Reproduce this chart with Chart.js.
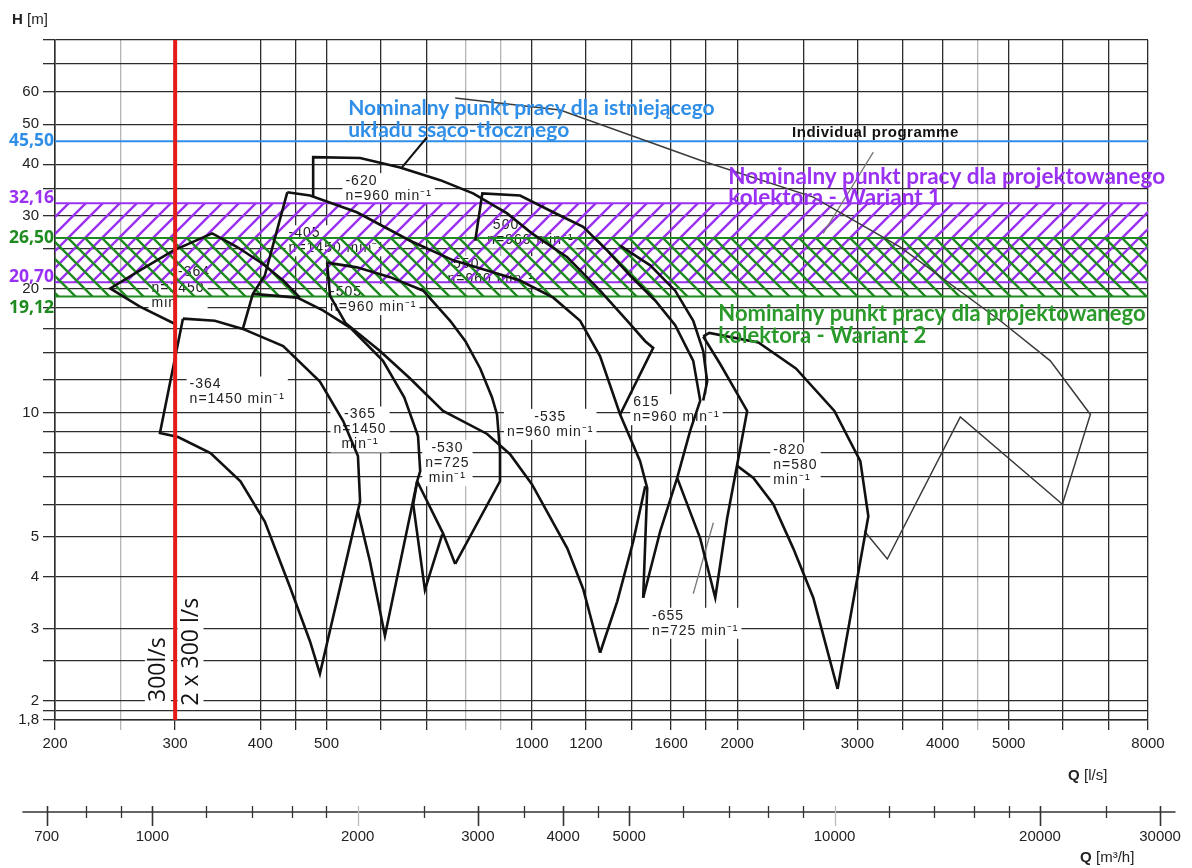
<!DOCTYPE html>
<html>
<head>
<meta charset="utf-8">
<script src="https://cdn.jsdelivr.net/npm/chart.js@4.4.1/dist/chart.umd.min.js"></script>
<style>
  html, body { margin: 0; padding: 0; background: #fff; }
  #wrap { width: 1192px; height: 868px; position: relative; }
</style>
</head>
<body>
<div id="wrap"><canvas id="pumpChart"></canvas></div>
<script>
// axes: Q in l/s (log), H in m (log)
let xGridValues = [200, 250, 300, 400, 450, 500, 600, 700, 800, 900, 1000, 1200, 1400, 1600, 1800, 2000, 2500, 3000, 3500, 4000, 4500, 5000, 6000, 7000, 8000];
let xLightGrid = [250, 800, 900, 4500];
let xTickLabels = [200, 300, 400, 500, 1000, 1200, 1600, 2000, 3000, 4000, 5000, 8000];
let yGridValues = [1.8, 1.9, 2, 2.5, 3, 4, 5, 6, 7, 8, 9, 10, 12, 14, 16, 18, 20, 25, 30, 35, 40, 50, 60, 70, 80];
let yTickLabels = [1.8, 2, 3, 4, 5, 10, 20, 30, 40, 50, 60];

// second axis Q in m3/h
let m3hRange = [645, 31600];
let m3hTicks = [700, 800, 900, 1000, 1200, 1400, 1600, 1800, 2000, 2500, 3000, 3500, 4000, 4500, 5000, 6000, 7000, 8000, 9000, 10000, 12000, 14000, 16000, 18000, 20000, 25000, 30000];
let m3hBigTicks = [700, 1000, 3000, 4000, 5000, 20000, 30000];
let m3hLightTicks = [2000, 10000];
let m3hLabels = [700, 1000, 2000, 3000, 4000, 5000, 10000, 20000, 30000];

// nominal working points
let levelValues = [45.5, 32.16, 26.5, 20.7, 19.12];
let levelTexts = ['45,50', '32,16', '26,50', '20,70', '19,12'];
let flowLine = 300;

// pump curves [Q l/s, H m]
let curveT0 = [[300,16.4],[266,18.1],[241,20.0],[266,22.1],[298,24.7],[340,27.2],[370,25.2],[404,22.9],[432,20.9],[457,19.0]];
let curve364 = [[308,16.9],[343,16.7],[377,15.96],[432,14.5],[489,11.9],[529,9.54],[556,7.85],[560,6.1],[489,2.33],[473,2.79],[442,3.78],[406,5.45],[374,6.82],[338,7.98],[303,8.73],[285,8.93],[308,16.9]];
let edge405 = [[438,34.2],[406,21.5],[390,19.4],[377,15.96]];
let curve365 = [[390,19.4],[453,19.0],[494,17.7],[542,16.05],[605,13.35],[650,10.9],[681,8.78],[686,7.22],[679,6.82],[609,2.88],[595,3.49],[579,4.36],[556,5.77]];
let curve405 = [[438,34.2],[473,33.6],[554,30.6],[663,26.1],[767,23.4],[860,22.1],[961,20.9],[1075,19.0],[1177,16.7],[1259,13.7],[1347,9.9],[1441,7.63],[1476,6.56],[1456,3.56]];
let curve620 = [[478,33.3],[478,41.6],[560,41.4],[641,39.3],[734,36.6],[820,34.0],[920,30.4],[1000,27.2],[1127,23.8],[1259,19.75],[1380,16.7],[1466,14.9],[1506,14.35],[1347,9.9]];
let curve500 = [[826,26.1],[846,34.0],[961,33.6],[1075,30.6],[1189,28.2],[1290,24.7],[1393,21.5],[1516,18.7],[1622,16.3],[1724,13.35],[1765,10.7],[1706,9.03],[1633,6.95],[1542,5.16],[1456,3.56]];
let curve616 = [[1347,25.4],[1491,22.75],[1622,19.75],[1724,16.7],[1783,14.1],[1807,11.9],[1783,10.7]];
let curve505 = [[501,23.1],[554,22.5],[620,21.3],[693,19.75],[759,16.7],[799,14.9],[840,12.8],[874,10.9],[889,9.9],[898,8.07],[898,6.82],[772,4.30]];
let edge505 = [[501,23.1],[506,19.2],[533,16.5],[599,14.1],[663,12.1],[741,10.1],[860,8.88],[929,7.93],[1000,6.71],[1127,4.69],[1189,3.74],[1259,2.62]];
let curve535 = [[1259,2.62],[1334,3.49],[1408,4.88],[1466,6.63]];
let zig530a = [[679,6.82],[741,5.1],[772,4.30]];
let zig530b = [[679,6.82],[670,6.0],[697,3.72],[739,5.07]];
let curve655 = [[1633,6.95],[1765,4.96],[1857,3.56],[1933,5.55],[2000,7.5],[2068,10.1],[1889,13.1],[1783,15.3]];
let curve820 = [[1783,15.3],[1820,15.6],[2148,14.8],[2438,12.8],[2776,10.1],[3030,7.63],[3113,5.61],[2806,2.14]];
let edge820 = [[2000,7.43],[2112,6.95],[2259,6.0],[2416,4.69],[2585,3.56],[2806,2.14]];
let programme = [[772,57.9],[1100,54.1],[1765,40.9],[2585,33.3],[3467,25.2],[4860,16.7],[5754,13.35],[6586,9.9],[5993,6.0],[4246,9.77],[3319,4.42],[3071,5.17]];
let pointer620 = [[702,46.5],[645,39.3]];
let pointerProgramme = [[3166,42.8],[2673,27.2]];
let pointer655 = [[1845,5.41],[1724,3.64]];

// labels of the pump fields (anchor Q, H of first line)
let pumpLabels = [
    {q: 315, h: 11.7, lines: ['-364', 'n=1450 min⁻¹']},
    {q: 560, h: 9.9, lines: ['-365', 'n=1450', 'min⁻¹'], center: true},
    {q: 752, h: 8.2, lines: ['-530', 'n=725', 'min⁻¹'], center: true},
    {q: 1064, h: 9.77, lines: ['-535', 'n=960 min⁻¹'], center: true},
    {q: 1408, h: 10.6, lines: ['615', 'n=960 min⁻¹']},
    {q: 2259, h: 8.1, lines: ['-820', 'n=580', 'min⁻¹']},
    {q: 1500, h: 3.22, lines: ['-655', 'n=725 min⁻¹']},
    {q: 533, h: 36.4, lines: ['-620', 'n=960 min⁻¹']},
    {q: 440, h: 27.2, lines: ['-405', 'n=1450 min⁻¹']},
    {q: 303, h: 21.9, lines: ['-364']},
    {q: 277, h: 20.0, lines: ['n=1450', 'min']},
    {q: 860, h: 28.4, lines: ['-500', 'n=960 min⁻¹']},
    {q: 752, h: 22.9, lines: ['-550', 'n=960 min⁻¹']},
    {q: 506, h: 19.6, lines: ['-505', 'n=960 min⁻¹']}
];

let notes = [
    {q: 538, h: 54.7, lines: ['Nominalny punkt pracy dla istniejącego', 'układu ssąco-tłocznego'], color: '#2f8ee8', size: 21, gap: 22},
    {q: 1940, h: 37.2, lines: ['Nominalny punkt pracy dla projektowanego', 'kolektora - Wariant 1'], color: '#9a30f2', size: 22.5, gap: 21},
    {q: 1876, h: 17.4, lines: ['Nominalny punkt pracy dla projektowanego', 'kolektora - Wariant 2'], color: '#2a9a2a', size: 22, gap: 22}
];

const BLUE = '#2f8ee8', PURPLE = '#9a30f2', GREEN = '#1f8a1f';
const levelColors = [BLUE, PURPLE, GREEN, PURPLE, GREEN];
const levelShift = [0, -5, 0, -5, 12];

function hatch(color, slash){
    let s = 17;
    let c = document.createElement('canvas');
    c.width = s; c.height = s;
    let g = c.getContext('2d');
    g.strokeStyle = color;
    g.lineWidth = 2.4;
    g.beginPath();
    if (slash){
        g.moveTo(0, s); g.lineTo(s, 0);
        g.moveTo(-2, 2); g.lineTo(2, -2);
        g.moveTo(s - 2, s + 2); g.lineTo(s + 2, s - 2);
    } else {
        g.moveTo(0, 0); g.lineTo(s, s);
        g.moveTo(s - 2, -2); g.lineTo(s + 2, 2);
        g.moveTo(-2, s - 2); g.lineTo(2, s + 2);
    }
    g.stroke();
    return g.createPattern(c, 'repeat');
}

function pts(arr){
    return arr.map(p => ({x: p[0], y: p[1]}));
}

function flat(h){
    return [{x: 200, y: h}, {x: 8000, y: h}];
}

let blackCurves = [curveT0, curve364, edge405, curve365, curve405, curve620, curve500, curve616,
    curve505, edge505, curve535, zig530a, zig530b, curve655, curve820, edge820];

let datasets = [
    {data: flat(levelValues[1]), borderColor: PURPLE, borderWidth: 2, order: 10},
    {data: flat(levelValues[3]), borderColor: PURPLE, borderWidth: 2, order: 10, fill: '-1', backgroundColor: hatch(PURPLE, true)},
    {data: flat(levelValues[2]), borderColor: GREEN, borderWidth: 2.2, order: 9},
    {data: flat(levelValues[4]), borderColor: GREEN, borderWidth: 2.2, order: 9, fill: '-1', backgroundColor: hatch(GREEN, false)},
    {data: flat(levelValues[0]), borderColor: BLUE, borderWidth: 2, order: 8}
];
blackCurves.forEach(c => datasets.push({data: pts(c), borderColor: '#111', borderWidth: 2.6, order: 0}));
datasets.push({data: pts(programme), borderColor: '#3a3a3a', borderWidth: 1.5, order: 1});
datasets.push({data: pts(pointer620), borderColor: '#111', borderWidth: 2, order: 1});
datasets.push({data: pts(pointerProgramme), borderColor: '#777', borderWidth: 1.3, order: 1});
datasets.push({data: pts(pointer655), borderColor: '#777', borderWidth: 1.3, order: 1});
datasets.push({data: [{x: flowLine, y: 1.8}, {x: flowLine, y: 80}], borderColor: '#e41b1b', borderWidth: 4, order: -5});

const FONT = '"Liberation Sans", Arial, sans-serif';

const overlay = {
    id: 'overlay',
    beforeDatasetsDraw(chart){
        let {ctx, scales: {x, y}} = chart;
        ctx.save();
        ctx.font = '14px ' + FONT;
        ctx.letterSpacing = '1px';
        ctx.textBaseline = 'middle';
        pumpLabels.forEach(lb => {
            let px = x.getPixelForValue(lb.q), py = y.getPixelForValue(lb.h);
            let widths = lb.lines.map(t => ctx.measureText(t).width);
            let w = Math.max(...widths);
            let left = lb.center ? px - w / 2 : px;
            ctx.fillStyle = '#fff';
            ctx.fillRect(left - 3, py - 8, w + 6, lb.lines.length * 15 + 1);
            ctx.fillStyle = '#222';
            lb.lines.forEach((t, i) => {
                ctx.fillText(t, lb.center ? px - widths[i] / 2 : px, py + i * 15);
            });
        });
        ctx.letterSpacing = '0px';
        // rotated flow texts
        ctx.font = '23px "Open Sans", sans-serif';
        [['300l/s', 283, 1.99], ['2 x 300 l/s', 316, 1.95]].forEach(t => {
            let px = x.getPixelForValue(t[1]), py = y.getPixelForValue(t[2]);
            let w = ctx.measureText(t[0]).width;
            ctx.save();
            ctx.translate(px, py);
            ctx.rotate(-Math.PI / 2);
            ctx.fillStyle = '#fff';
            ctx.fillRect(-2, -13, w + 4, 26);
            ctx.fillStyle = '#111';
            ctx.textAlign = 'left';
            ctx.fillText(t[0], 0, 1);
            ctx.restore();
        });
        ctx.restore();
    },
    afterDraw(chart){
        let {ctx, scales: {x, y}, chartArea} = chart;
        ctx.save();
        ctx.textBaseline = 'middle';
        // coloured level labels
        ctx.font = 'bold 17.5px "Open Sans", sans-serif';
        ctx.textAlign = 'right';
        levelValues.forEach((v, i) => {
            ctx.fillStyle = levelColors[i];
            ctx.fillText(levelTexts[i], 54, y.getPixelForValue(v) + levelShift[i]);
        });
        // notes
        ctx.textAlign = 'left';
        notes.forEach(n => {
            let px = x.getPixelForValue(n.q), py = y.getPixelForValue(n.h);
            ctx.font = 'bold ' + n.size + 'px Lato, "Open Sans", sans-serif';
            ctx.fillStyle = n.color;
            n.lines.forEach((t, i) => ctx.fillText(t, px, py + i * n.gap));
        });
        ctx.font = 'bold 15px ' + FONT;
        ctx.letterSpacing = '0.5px';
        ctx.fillStyle = '#111';
        ctx.textAlign = 'center';
        ctx.fillText('Individual programme', x.getPixelForValue(3188), y.getPixelForValue(47.6));
        ctx.letterSpacing = '0px';

        // axis titles
        ctx.textAlign = 'left';
        ctx.fillStyle = '#222';
        ctx.font = 'bold 15px ' + FONT;
        ctx.fillText('H', 12, 20);
        ctx.font = '15px ' + FONT;
        ctx.fillText('[m]', 27, 20);
        let qy = chartArea.bottom + 56;
        ctx.font = 'bold 15px ' + FONT;
        ctx.fillText('Q', 1068, qy);
        ctx.font = '15px ' + FONT;
        ctx.fillText('[l/s]', 1084, qy);

        // second axis m3/h
        let ay = chartArea.bottom + 92;
        let toPx = v => x.getPixelForValue(v / 3.6);
        ctx.strokeStyle = '#333';
        ctx.lineWidth = 1.5;
        ctx.beginPath();
        ctx.moveTo(toPx(m3hRange[0]), ay);
        ctx.lineTo(toPx(m3hRange[1]), ay);
        ctx.stroke();
        m3hTicks.forEach(v => {
            let px = Math.round(toPx(v)) + 0.5;
            let big = m3hBigTicks.includes(v);
            let light = m3hLightTicks.includes(v);
            ctx.strokeStyle = light ? '#bbb' : '#333';
            ctx.lineWidth = big ? 1.6 : 1.3;
            ctx.beginPath();
            ctx.moveTo(px, ay - 6);
            ctx.lineTo(px, ay + (big || light ? 14 : 6));
            ctx.stroke();
        });
        ctx.fillStyle = '#222';
        ctx.textAlign = 'center';
        ctx.font = '15px ' + FONT;
        m3hLabels.forEach(v => ctx.fillText(String(v), toPx(v), ay + 25));
        ctx.textAlign = 'left';
        let ty = ay + 46;
        ctx.font = 'bold 15px ' + FONT;
        ctx.fillText('Q', 1080, ty);
        ctx.font = '15px ' + FONT;
        ctx.fillText('[m³/h]', 1096, ty);
        ctx.restore();
    }
};

function gridColor(light){
    return ctx => (ctx.tick && light.includes(ctx.tick.value)) ? '#b5b5b5' : '#2c2c2c';
}

new Chart(document.getElementById('pumpChart').getContext('2d'), {
    type: 'line',
    data: {datasets: datasets},
    options: {
        responsive: true,
        maintainAspectRatio: false,
        devicePixelRatio: 1,
        animation: false,
        events: [],
        layout: {padding: {top: 40, right: 44, left: 0, bottom: 0}},
        elements: {point: {radius: 0}, line: {tension: 0, fill: false}},
        plugins: {legend: {display: false}, tooltip: {enabled: false}},
        scales: {
            x: {
                type: 'logarithmic',
                min: 200,
                max: 8000,
                afterBuildTicks: s => { s.ticks = xGridValues.map(v => ({value: v})); },
                afterFit: s => { s.height = 148; },
                ticks: {
                    autoSkip: false,
                    maxRotation: 0,
                    padding: 5,
                    color: '#222',
                    font: {family: FONT, size: 15},
                    callback: v => xTickLabels.includes(v) ? String(v) : ''
                },
                grid: {color: gridColor(xLightGrid), lineWidth: 1.3, tickLength: 10},
                border: {color: '#2c2c2c', width: 1.5}
            },
            y: {
                type: 'logarithmic',
                min: 1.8,
                max: 80,
                afterBuildTicks: s => { s.ticks = yGridValues.map(v => ({value: v})); },
                afterFit: s => { s.width = 55; },
                ticks: {
                    autoSkip: false,
                    padding: 4,
                    color: '#222',
                    font: {family: FONT, size: 15},
                    callback: v => yTickLabels.includes(v) ? String(v).replace('.', ',') : ''
                },
                grid: {color: gridColor([]), lineWidth: 1.3, tickLength: 12},
                border: {color: '#2c2c2c', width: 1.5}
            }
        }
    },
    plugins: [overlay]
});
</script>
</body>
</html>
